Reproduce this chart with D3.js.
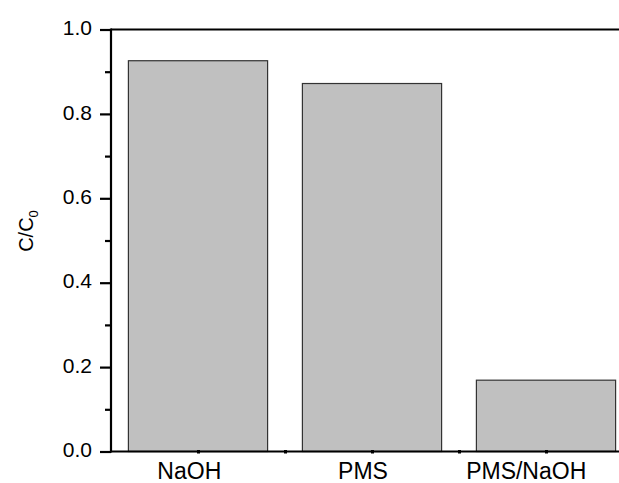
<!DOCTYPE html>
<html>
<head>
<meta charset="utf-8">
<script src="https://cdn.jsdelivr.net/npm/d3@7"></script>
<style>
  html, body { margin: 0; padding: 0; background: #fff; }
  svg { display: block; }
  text { font-family: "Liberation Sans", Arial, sans-serif; fill: #000; }
</style>
</head>
<body>
<svg id="chart" width="619" height="483"></svg>
<script>
const categories = ["NaOH", "PMS", "PMS/NaOH"];
const values = [0.926, 0.872, 0.169];
const majorTicks = [0.0, 0.2, 0.4, 0.6, 0.8, 1.0];
const minorTicks = [0.1, 0.3, 0.5, 0.7, 0.9];
const xMinorTicks = [1.5, 2.5];
const yLabel = "C/C";
const yLabelSub = "0";

const svg = d3.select("#chart");
const W = 619, H = 483;
const mLeft = 111, mTop = 29.5, mBottom = 451.5;
// label nudges as placed in the original figure
const labelShift = [-9.2, -9.5, -20.3];

const y = d3.scaleLinear().domain([0, 1]).range([mBottom, mTop]);
const x = d3.scaleLinear().domain([0.5, 3.5]).range([mLeft, mLeft + 3 * 174]);
const barW = x(1.8) - x(1);

// bars
svg.append("g").selectAll("rect")
  .data(values)
  .join("rect")
  .attr("x", (d, i) => x(i + 1) - barW / 2)
  .attr("y", d => y(d))
  .attr("width", barW)
  .attr("height", d => y(0) - y(d))
  .attr("fill", "#c0c0c0")
  .attr("stroke", "#333")
  .attr("stroke-width", 1.2);

// y axis
const yAxis = d3.axisLeft(y).tickValues(majorTicks).tickFormat(d3.format(".1f")).tickSize(11).tickPadding(8);
const gy = svg.append("g").attr("transform", `translate(${mLeft},0)`).call(yAxis);
gy.select(".domain").remove();
gy.selectAll(".tick line").attr("stroke", "#000").attr("stroke-width", 2.2);
gy.selectAll(".tick text").attr("font-size", 21).attr("dy", "0.25em");

const gyMinor = svg.append("g").attr("transform", `translate(${mLeft},0)`)
  .call(d3.axisLeft(y).tickValues(minorTicks).tickFormat("").tickSize(6));
gyMinor.select(".domain").remove();
gyMinor.selectAll(".tick line").attr("stroke", "#000").attr("stroke-width", 2.2);

// x axis ticks (small marks)
const gx = svg.append("g").attr("transform", `translate(0,${mBottom})`)
  .call(d3.axisBottom(x).tickValues([1, 2, 3]).tickFormat((d) => categories[d - 1]).tickSize(2).tickPadding(10));
gx.select(".domain").remove();
gx.selectAll(".tick line").attr("stroke", "#000").attr("stroke-width", 3).attr("y1", -1.5);
gx.selectAll(".tick text").attr("font-size", 23).attr("dy", "0.68em")
  .attr("dx", (d) => labelShift[d - 1]);

const gxMinor = svg.append("g").attr("transform", `translate(0,${mBottom})`)
  .call(d3.axisBottom(x).tickValues(xMinorTicks).tickFormat("").tickSize(2));
gxMinor.select(".domain").remove();
gxMinor.selectAll(".tick line").attr("stroke", "#000").attr("stroke-width", 3).attr("y1", -1.5);

// frame lines
svg.append("line").attr("x1", mLeft).attr("x2", W).attr("y1", mTop).attr("y2", mTop)
  .attr("stroke", "#000").attr("stroke-width", 2.2);
svg.append("line").attr("x1", mLeft).attr("x2", W).attr("y1", mBottom).attr("y2", mBottom)
  .attr("stroke", "#000").attr("stroke-width", 2.2);
svg.append("line").attr("x1", mLeft).attr("x2", mLeft).attr("y1", mTop - 1.1).attr("y2", mBottom + 1.1)
  .attr("stroke", "#000").attr("stroke-width", 2.2);

// y label
const yl = svg.append("text")
  .attr("transform", `translate(33,231) rotate(-90)`)
  .attr("text-anchor", "middle")
  .attr("font-size", 20);
yl.append("tspan").text(yLabel);
yl.append("tspan").attr("font-size", 13).attr("dy", 5).text(yLabelSub);
</script>
</body>
</html>
